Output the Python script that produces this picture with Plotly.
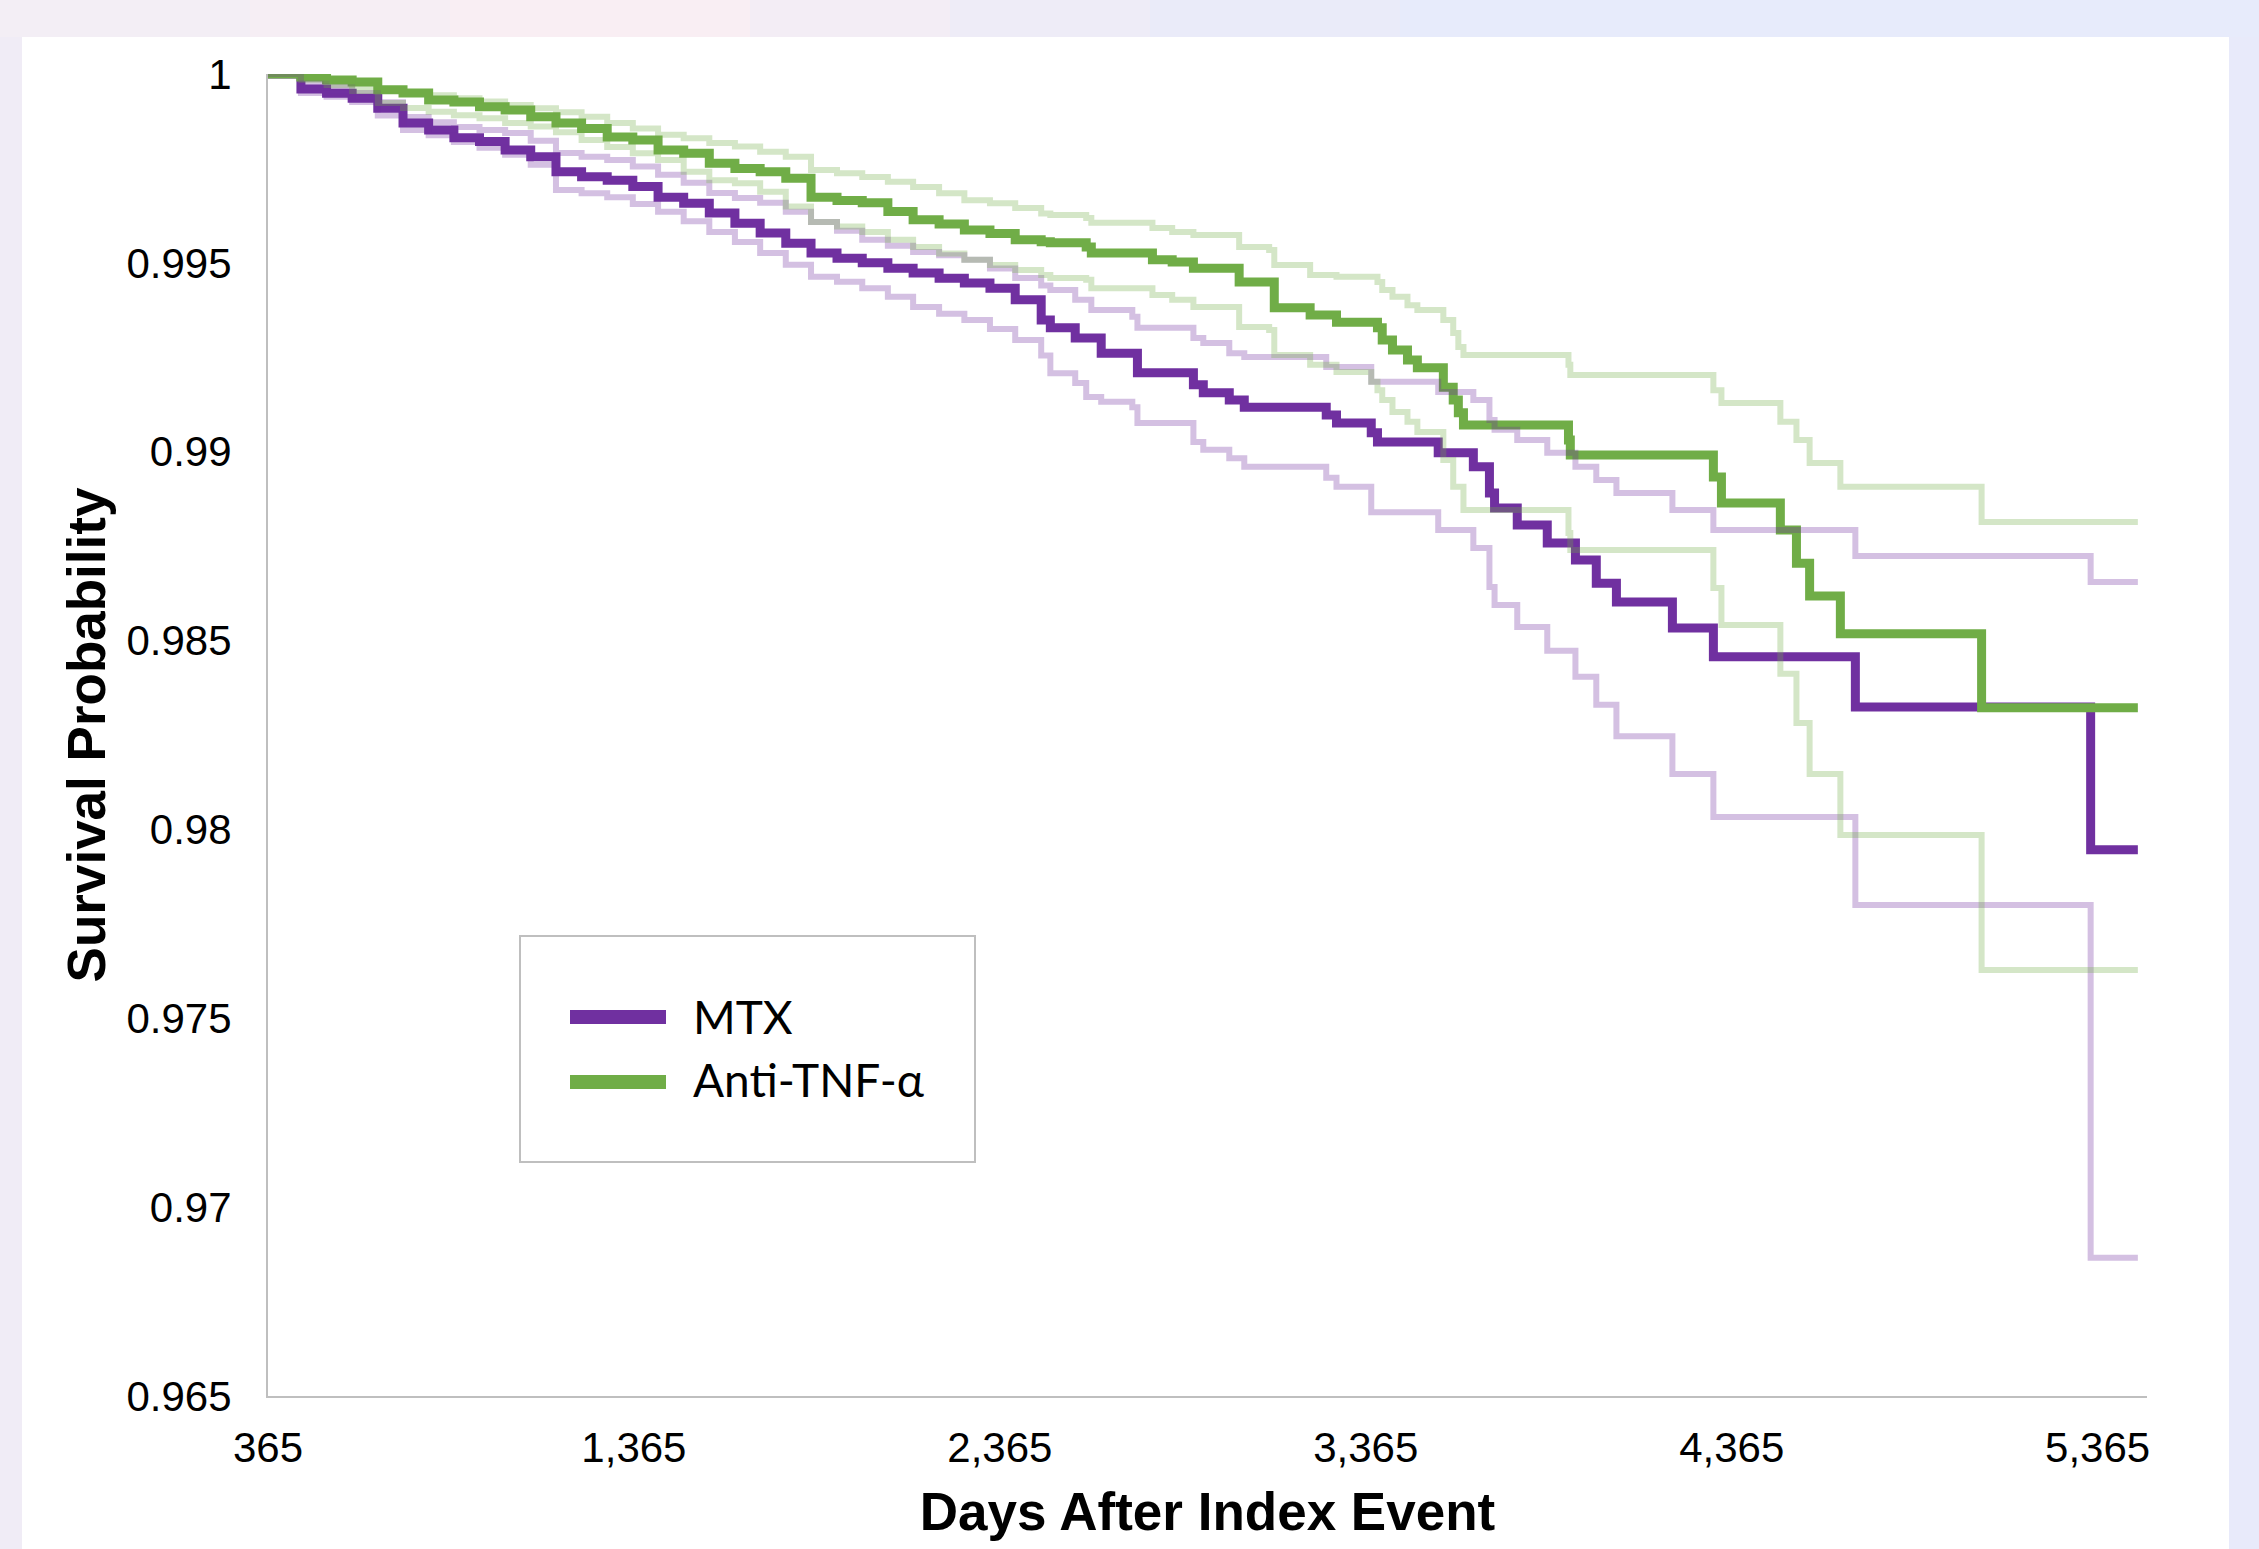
import plotly.graph_objects as go

# ---------------- data ----------------
early_days = [365, 455, 525, 595, 665, 734, 804, 873, 943, 1013, 1083, 1152, 1222, 1292, 1362, 1431, 1501,
              1571, 1641, 1710, 1780, 1849, 1920, 1989, 2059, 2128, 2199, 2268, 2338, 2407, 2478]

mtx_days = early_days + [2503, 2571, 2642, 2741, 2894, 2921, 2992, 3033, 3257, 3285, 3380, 3397, 3563,
                         3659, 3703, 3717, 3779, 3861, 3938, 3995, 4050, 4203, 4315, 4703, 5346, 5475]
mtx_surv = [1.0, 0.99960, 0.99949, 0.99936, 0.99909, 0.99870, 0.99852, 0.99831, 0.99821, 0.99799, 0.99781,
            0.99741, 0.99728, 0.99719, 0.99702, 0.99674, 0.99658, 0.99632, 0.99605, 0.99579, 0.99552,
            0.99526, 0.99512, 0.99500, 0.99486, 0.99473, 0.99459, 0.99447, 0.99433, 0.99402, 0.99349,
            0.99328, 0.99301, 0.99261, 0.99209, 0.99177, 0.99156, 0.99137, 0.99118, 0.99097, 0.99076,
            0.99050, 0.99026, 0.98997, 0.98960, 0.98891, 0.98851, 0.98806, 0.98758, 0.98713, 0.98652,
            0.98602, 0.98533, 0.98457, 0.98324, 0.97946, 0.97946]

mtx_up_days = early_days + [2503, 2571, 2615, 2727, 2741, 2894, 2921, 2992, 3033, 3257, 3380, 3563, 3659,
                            3703, 3717, 3779, 3861, 3938, 3995, 4050, 4203, 4315, 4703, 5346, 5475]
mtx_up_surv = [1.0, 0.99975, 0.99965, 0.99950, 0.99925, 0.99886, 0.99872, 0.99860, 0.99852, 0.99844,
               0.99823, 0.99791, 0.99781, 0.99772, 0.99755, 0.99733, 0.99712, 0.99685, 0.99672, 0.99659,
               0.99635, 0.99608, 0.99585, 0.99561, 0.99545, 0.99529, 0.99520, 0.99508, 0.99485, 0.99460,
               0.99440, 0.99428, 0.99402, 0.99375, 0.99357, 0.99328, 0.99301, 0.99288, 0.99261, 0.99251,
               0.99224, 0.99185, 0.99158, 0.99137, 0.99084, 0.99058, 0.99031, 0.98997, 0.98960, 0.98925,
               0.98891, 0.98846, 0.98793, 0.98724, 0.98655, 0.98655]

mtx_lo_days = early_days + [2503, 2571, 2601, 2642, 2727, 2741, 2894, 2921, 2992, 3033, 3257, 3285, 3380,
                            3563, 3659, 3703, 3717, 3779, 3861, 3938, 3995, 4050, 4203, 4315, 4703, 5346,
                            5475]
mtx_lo_surv = [1.0, 0.99950, 0.99940, 0.99926, 0.99890, 0.99852, 0.99838, 0.99820, 0.99805, 0.99786,
               0.99760, 0.99693, 0.99684, 0.99674, 0.99656, 0.99635, 0.99610, 0.99582, 0.99555, 0.99526,
               0.99495, 0.99463, 0.99450, 0.99433, 0.99410, 0.99383, 0.99365, 0.99349, 0.99325, 0.99296,
               0.99255, 0.99208, 0.99182, 0.99145, 0.99132, 0.99118, 0.99076, 0.99026, 0.99005, 0.98983,
               0.98960, 0.98931, 0.98907, 0.98840, 0.98793, 0.98745, 0.98642, 0.98594, 0.98536, 0.98473,
               0.98404, 0.98330, 0.98247, 0.98147, 0.98033, 0.97800, 0.96866, 0.96866]

tnf_days = early_days + [2503, 2601, 2615, 2782, 2836, 2894, 3019, 3115, 3213, 3285, 3397, 3410, 3438,
                         3479, 3506, 3577, 3604, 3618, 3632, 3919, 3924, 4315, 4337, 4498, 4542, 4578,
                         4662, 5048, 5475]
tnf_surv = [1.0, 0.99992, 0.99984, 0.99979, 0.99958, 0.99950, 0.99931, 0.99926, 0.99913, 0.99905, 0.99887,
            0.99870, 0.99856, 0.99833, 0.99825, 0.99799, 0.99790, 0.99764, 0.99750, 0.99741, 0.99724,
            0.99674, 0.99665, 0.99659, 0.99636, 0.99614, 0.99603, 0.99587, 0.99578, 0.99561, 0.99556,
            0.99553, 0.99542, 0.99526, 0.99508, 0.99502, 0.99486, 0.99449, 0.99381, 0.99362, 0.99343,
            0.99328, 0.99296, 0.99269, 0.99243, 0.99222, 0.99171, 0.99137, 0.99103, 0.99071, 0.99031,
            0.98991, 0.98933, 0.98864, 0.98793, 0.98705, 0.98618, 0.98518, 0.98322, 0.98322]

tnf_up_days = early_days + [2503, 2601, 2615, 2782, 2836, 2894, 3019, 3101, 3115, 3213, 3285, 3397, 3410,
                            3438, 3479, 3506, 3577, 3604, 3618, 3632, 3919, 3924, 4315, 4337, 4498, 4542,
                            4578, 4662, 5048, 5475]
tnf_up_surv = [1.0, 0.99992, 0.99984, 0.99971, 0.99958, 0.99950, 0.99944, 0.99936, 0.99927, 0.99918,
               0.99909, 0.99899, 0.99887, 0.99870, 0.99856, 0.99839, 0.99830, 0.99817, 0.99808, 0.99794,
               0.99781, 0.99746, 0.99737, 0.99727, 0.99715, 0.99701, 0.99684, 0.99666, 0.99658, 0.99645,
               0.99631, 0.99627, 0.99619, 0.99606, 0.99592, 0.99582, 0.99574, 0.99542, 0.99534, 0.99494,
               0.99468, 0.99463, 0.99449, 0.99428, 0.99410, 0.99388, 0.99375, 0.99349, 0.99314, 0.99277,
               0.99256, 0.99230, 0.99203, 0.99163, 0.99129, 0.99079, 0.99031, 0.98970, 0.98907, 0.98814,
               0.98814]

tnf_lo_days = early_days + [2503, 2601, 2615, 2782, 2836, 2894, 3019, 3101, 3115, 3213, 3285, 3380, 3397,
                            3410, 3438, 3479, 3506, 3577, 3604, 3632, 3919, 3924, 4315, 4337, 4498, 4542,
                            4578, 4662, 5048, 5475]
tnf_lo_surv = [1.0, 0.99985, 0.99971, 0.99955, 0.99923, 0.99910, 0.99900, 0.99891, 0.99883, 0.99870,
               0.99861, 0.99846, 0.99825, 0.99807, 0.99790, 0.99772, 0.99741, 0.99719, 0.99711, 0.99688,
               0.99649, 0.99608, 0.99596, 0.99582, 0.99561, 0.99542, 0.99525, 0.99508, 0.99494, 0.99481,
               0.99468, 0.99460, 0.99455, 0.99433, 0.99415, 0.99402, 0.99383, 0.99330, 0.99322, 0.99256,
               0.99230, 0.99211, 0.99185, 0.99163, 0.99137, 0.99105, 0.99079, 0.99052, 0.98978, 0.98907,
               0.98846, 0.98785, 0.98740, 0.98639, 0.98541, 0.98412, 0.98282, 0.98147, 0.97985, 0.97628,
               0.97628]

series_names = ["MTX", "Anti-TNF-α"]
y_tickvals = [0.965, 0.97, 0.975, 0.98, 0.985, 0.99, 0.995, 1.0]
y_ticktext = ["0.965", "0.97", "0.975", "0.98", "0.985", "0.99", "0.995", "1"]
x_ticks = [365, 1365, 2365, 3365, 4365, 5365]

# ---------------- styling ----------------
PURPLE = "#7030A0"
GREEN = "#70AD47"
PURPLE_CI = "rgba(112,48,160,0.30)"
GREEN_CI = "rgba(112,173,71,0.30)"
FONT = "Liberation Sans, Arial, sans-serif"
LEG_FONT = "Lato, Calibri, Carlito, sans-serif"

W, H = 2259, 1549
L, R, T, B = 268, 112, 74, 153
PW, PH = W - L - R, H - T - B


def px_x(p):
    return (p - L) / PW


def px_y(p):
    return (H - B - p) / PH


fig = go.Figure()

# main curves
fig.add_trace(go.Scatter(x=mtx_days, y=mtx_surv, mode="lines", name=series_names[0],
                         legendgroup="mtx", showlegend=False,
                         line=dict(color=PURPLE, width=9, shape="hv")))
fig.add_trace(go.Scatter(x=tnf_days, y=tnf_surv, mode="lines", name=series_names[1],
                         legendgroup="tnf", showlegend=False,
                         line=dict(color=GREEN, width=9, shape="hv")))
# confidence limits
ci = [(mtx_lo_days, mtx_lo_surv, "MTX lower 95% CI", PURPLE_CI, "mtx"),
      (mtx_up_days, mtx_up_surv, "MTX upper 95% CI", PURPLE_CI, "mtx"),
      (tnf_lo_days, tnf_lo_surv, "Anti-TNF-α lower 95% CI", GREEN_CI, "tnf"),
      (tnf_up_days, tnf_up_surv, "Anti-TNF-α upper 95% CI", GREEN_CI, "tnf")]
for xd, yd, nm, col, grp in ci:
    fig.add_trace(go.Scatter(x=xd, y=yd, mode="lines", name=nm, legendgroup=grp, showlegend=False,
                             line=dict(color=col, width=6, shape="hv")))
# legend entries (text from legend; key swatches drawn as shapes below)
for nm, grp in zip(series_names, ["mtx", "tnf"]):
    fig.add_trace(go.Scatter(x=[None], y=[None], mode="lines", name=nm, legendgroup=grp,
                             showlegend=True, hoverinfo="skip",
                             line=dict(color="rgba(0,0,0,0)", width=1)))

shapes = []
bands = [(0, 250, "#F3EEF5"), (250, 450, "#F6EEF4"), (450, 750, "#F9EEF3"), (750, 950, "#F3EDF5"),
         (950, 1150, "#EEECF7"), (1150, 1400, "#EAEBF9"), (1400, 2259, "#E7EBFB")]
for x0, x1, c in bands:
    shapes.append(dict(type="rect", xref="paper", yref="paper", x0=px_x(x0), x1=px_x(x1),
                       y0=px_y(37), y1=px_y(0), fillcolor=c, line=dict(width=0), layer="below"))
shapes.append(dict(type="rect", xref="paper", yref="paper", x0=px_x(0), x1=px_x(22),
                   y0=px_y(H), y1=px_y(37), fillcolor="#F0ECF6", line=dict(width=0), layer="below"))
shapes.append(dict(type="rect", xref="paper", yref="paper", x0=px_x(2229), x1=px_x(W),
                   y0=px_y(H), y1=px_y(37), fillcolor="#E8EAFA", line=dict(width=0), layer="below"))
shapes.append(dict(type="rect", xref="paper", yref="paper", x0=px_x(22), x1=px_x(2229),
                   y0=px_y(H + 5), y1=px_y(37), fillcolor="white", line=dict(width=0), layer="below"))
# legend frame and key swatches
shapes.append(dict(type="rect", xref="paper", yref="paper", x0=px_x(520), x1=px_x(975),
                   y0=px_y(1162), y1=px_y(936), fillcolor="white",
                   line=dict(color="#BFBFBF", width=2), layer="below"))
for yy, col in [(1017, PURPLE), (1082, GREEN)]:
    shapes.append(dict(type="line", xref="paper", yref="paper", x0=px_x(570), x1=px_x(666),
                       y0=px_y(yy), y1=px_y(yy), line=dict(color=col, width=14), layer="above"))

fig.update_layout(
    width=W, height=H,
    margin=dict(l=L, r=R, t=T, b=B, pad=0),
    paper_bgcolor="#EEEBF7",
    plot_bgcolor="rgba(0,0,0,0)",
    shapes=shapes,
    showlegend=True,
    legend=dict(
        x=px_x(562), y=px_y(980), xanchor="left", yanchor="top",
        bgcolor="rgba(0,0,0,0)", borderwidth=0,
        font=dict(family=LEG_FONT, size=46, color="black"),
        itemwidth=121, tracegroupgap=0,
    ),
    xaxis=dict(
        range=[365, 5500], tickmode="array", tickvals=x_ticks, tickformat=",d",
        showline=True, linecolor="#BFBFBF", linewidth=2, ticks="", automargin=False,
        showgrid=False, zeroline=False, ticklabelstandoff=14,
        tickfont=dict(family=FONT, size=42, color="black"),
        title=dict(text="<b>Days After Index Event</b>", standoff=22,
                   font=dict(family=FONT, size=53, color="black")),
    ),
    yaxis=dict(
        range=[0.965, 1.0], tickmode="array", tickvals=y_tickvals, ticktext=y_ticktext,
        showline=True, linecolor="#BFBFBF", linewidth=2, ticks="", automargin=False,
        showgrid=False, zeroline=False, ticklabelstandoff=26,
        tickfont=dict(family=FONT, size=42, color="black"),
        title=dict(text="<b>Survival Probability</b>", standoff=4,
                   font=dict(family=FONT, size=53, color="black")),
    ),
)

fig.write_html("out.html")
